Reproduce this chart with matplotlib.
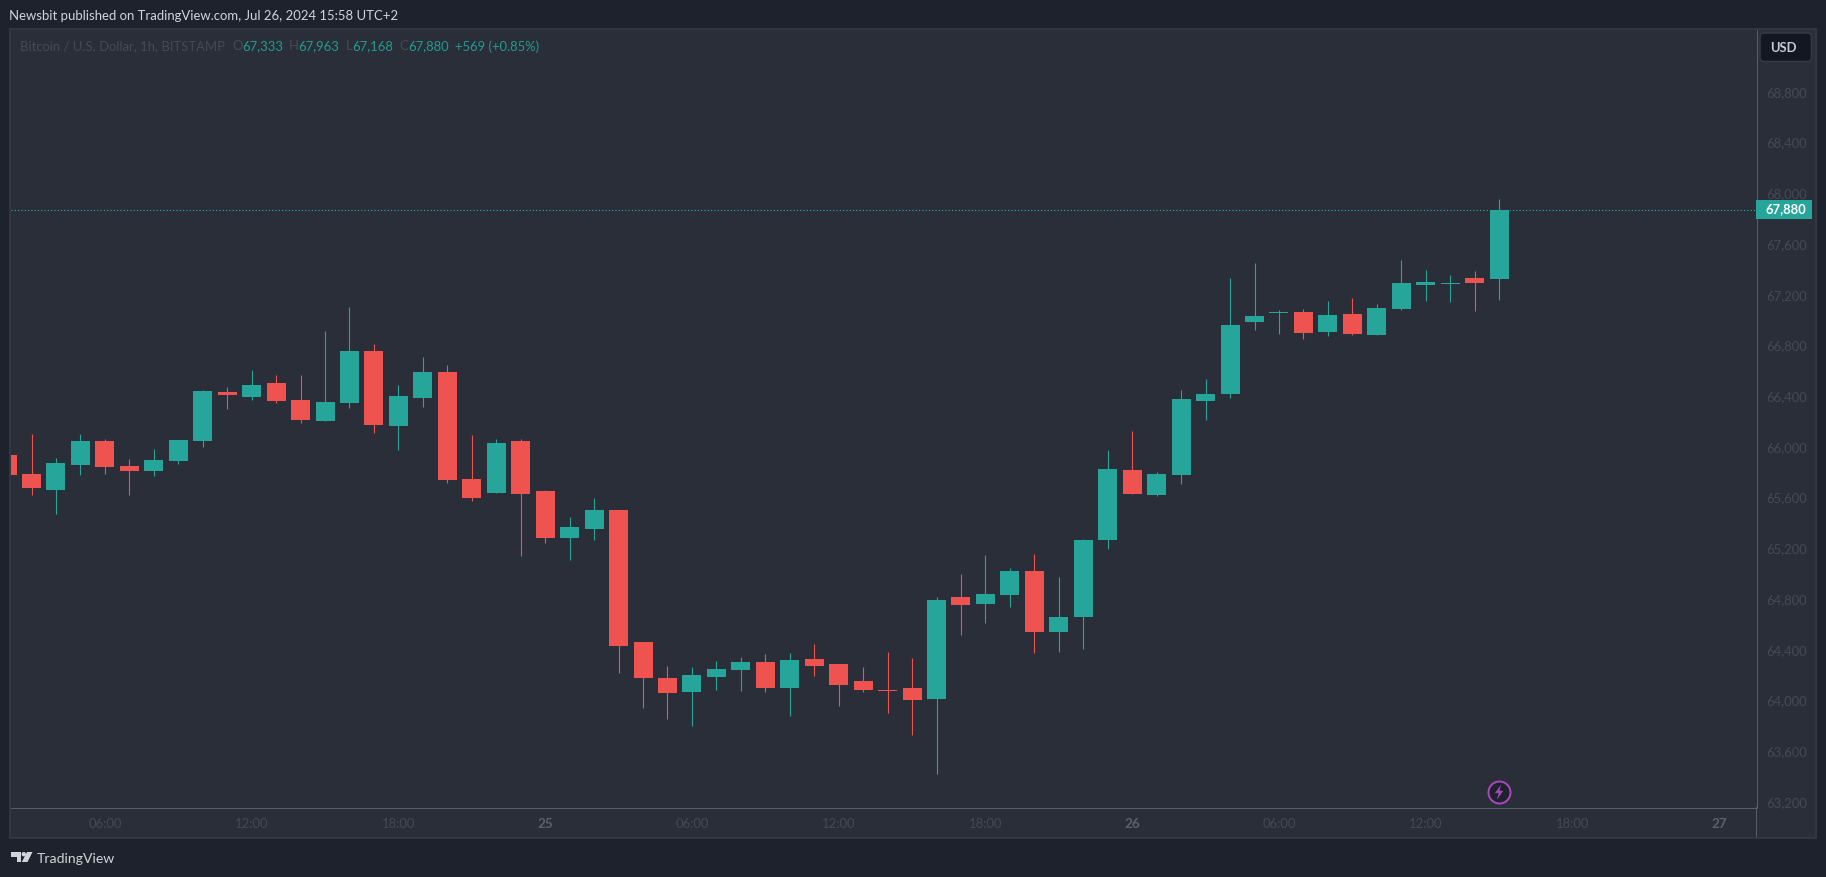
import matplotlib
matplotlib.use("Agg")
import matplotlib.pyplot as plt
import numpy as np
from matplotlib.patches import Rectangle, Circle, Polygon, FancyBboxPatch
from matplotlib.path import Path
from matplotlib.transforms import Affine2D, ScaledTranslation

# ---------- data ----------
opens = [65950,65800,65674,65871,66061,65863,65824,65903,66061,66447,
         66408,66518,66384,66218,66360,66770,66179,66400,66605,65761,
         65650,66061,65666,65296,65366,65516,64475,64191,64081,64199,
         64254,64318,64112,64341,64302,64168,64097,64112,64026,64830,
         64775,64846,65035,64554,64672,65280,65832,65635,65792,66376,
         66431,66999,67070,67078,66920,67062,66896,67102,67291,67299,
         67346,67333]
highs = [65990,66116,65926,66116,66076,65919,65997,66068,66463,66486,
         66621,66581,66581,66928,67117,66826,66502,66723,66660,66108,
         66076,66076,65674,65461,65611,65516,64475,64286,64278,64325,
         64357,64381,64389,64459,64302,64278,64396,64349,64830,65012,
         65161,65059,65169,64988,65288,65990,66139,65816,66463,66549,
         67346,67464,67094,67102,67165,67188,67141,67488,67409,67370,
         67401,67963]
lows = [65760,65635,65485,65792,65800,65635,65785,65879,66013,66313,
        66384,66360,66202,66218,66321,66124,65990,66329,65729,65587,
        65650,65154,65256,65122,65280,64231,63955,63868,63813,64097,
        64089,64081,63892,64207,63970,64081,63915,63742,63434,64530,
        64625,64751,64388,64396,64420,65209,65643,65627,65721,66226,
        66400,66936,66904,66865,66889,66896,66896,67094,67165,67157,
        67086,67168]
closes = [65792,65690,65887,66061,65855,65824,65911,66068,66455,66423,
          66502,66376,66226,66368,66770,66187,66415,66605,65753,65611,
          66045,65642,65296,65382,65516,64444,64191,64073,64215,64262,
          64318,64112,64333,64286,64136,64097,64089,64018,64806,64767,
          64854,65035,64554,64672,65280,65840,65643,65800,66392,66431,
          66975,67046,67078,66912,67054,66904,67109,67307,67314,67307,
          67307,67880]
# Slot positions: 0 = 02:00 on the 24th, one slot per hour
price_ticks = [68800,68400,68000,67600,67200,66800,66400,66000,65600,65200,
               64800,64400,64000,63600,63200]
time_ticks = [4,10,16,22,28,34,40,46,52,58,64,70]
time_labels = ["06:00","12:00","18:00","25","06:00","12:00","18:00","26",
               "06:00","12:00","18:00","27"]
last_price = 67880
legend_parts = [("Bitcoin / U.S. Dollar, 1h, BITSTAMP",20,"#474a55"),
                ("O",232,"#474a55"),("67,333",242,"#1f9c8e"),
                ("H",289,"#474a55"),("67,963",298,"#1f9c8e"),
                ("L",346,"#474a55"),("67,168",352,"#1f9c8e"),
                ("C",399,"#474a55"),("67,880",408,"#1f9c8e"),
                ("+569 (+0.85%)",455,"#1f9c8e")]

# ---------- style ----------
W, H = 1826, 878
FONT = "Lato"
BG = "#1e222d"; PANE = "#2a2e39"; EDGE = "#323641"; AXLINE = "#5a5d68"
UP = "#26a69a"; DOWN = "#ef5350"; TICK = "#464954"
plt.rcParams["font.family"] = [FONT, "DejaVu Sans"]

def pt(px):
    return px * 72 / 100

fig = plt.figure(figsize=(W/100, H/100), dpi=100, facecolor=BG)
px = Affine2D().scale(1, -1).translate(0, H)   # pixel coordinates, origin top-left
def add(p, z=10):
    p.set_transform(px); p.set_zorder(z); fig.add_artist(p); return p

# pane frame
add(Rectangle((9.5, 30), 1806.5, 808.5, facecolor=PANE, edgecolor=EDGE, lw=pt(2)), z=-1)

L, R, T, B = 10.5, 1756.5, 31.0, 809.0
ax = fig.add_axes([L/W, 1-B/H, (R-L)/W, (B-T)/H], facecolor=PANE)
ppx = 0.1268
Y0 = 211.0
ax.set_ylim(last_price-(B-Y0)/ppx, last_price+(Y0-T)/ppx)
slot = 24.46
ax.set_xlim((L-7.04)/slot, (R-7.04)/slot)

o, h, l, c = map(np.array, (opens, highs, lows, closes))
x = np.arange(len(o))
colors = [UP if cc >= oo else DOWN for oo, cc in zip(o, c)]

ax.axhline(last_price, color="#17b8a6", lw=pt(1.1), ls=(0, (1, 2)), zorder=1)
ax.vlines(x, l, h, colors=colors, lw=pt(1.1), zorder=2)
bottom = np.minimum(o, c); height = np.maximum(np.abs(c-o), 8)
ax.bar(x, height, bottom=bottom, width=19/slot, color=colors, linewidth=0, zorder=3)

for s in ("top", "left"):
    ax.spines[s].set_visible(False)
for s in ("right", "bottom"):
    ax.spines[s].set_color(AXLINE); ax.spines[s].set_linewidth(pt(1))

ax.yaxis.tick_right()
ax.set_yticks(price_ticks)
ax.set_yticklabels([f"{v:,}" for v in price_ticks], fontsize=pt(13), color=TICK)
ax.tick_params(axis="y", length=0, pad=pt(9.5))
ax.set_xticks(time_ticks)
ax.set_xticklabels(time_labels, fontsize=pt(13), color=TICK)
ax.tick_params(axis="x", length=0, pad=pt(9))
for lab in ax.get_xticklabels():
    if ":" not in lab.get_text():
        lab.set_fontweight("bold"); lab.set_color("#5d606b"); lab.set_fontsize(pt(13.5))
shift = ScaledTranslation(0, 2.5/100, fig.dpi_scale_trans)
for lab in ax.get_yticklabels():
    lab.set_transform(lab.get_transform() + shift)

# axis vertical line continues into the time-axis strip
add(Rectangle((1756, 808), 1, 30, facecolor=AXLINE, edgecolor="none"))

# last-price tag, with the y position tied to the price scale
tag_y = 210.5
add(Rectangle((1756, tag_y-9.5), 55.5, 19, facecolor=UP, edgecolor="none"))
fig.text(1786/W, 1-(tag_y-1)/H, f"{last_price:,}", color="white", fontsize=pt(13),
         fontweight="bold", ha="center", va="center", zorder=12)

# currency button
add(FancyBboxPatch((1760, 34), 51.5, 28.5, boxstyle="round,pad=0,rounding_size=4",
                   facecolor="#131722", edgecolor="#363a45", lw=pt(1.5)))
fig.text(1770/W, 1-48.5/H, "USD", color="#c8cbd4", fontsize=pt(13), fontweight="bold",
         ha="left", va="center", zorder=12)

# header texts
fig.text(9/W, 1-16.5/H, "Newsbit published on TradingView.com, Jul 26, 2024 15:58 UTC+2",
         color="#d1d4dc", fontsize=pt(13.1), ha="left", va="center")
for txt, xp, col in legend_parts:
    fig.text(xp/W, 1-46.5/H, txt, color=col, fontsize=pt(13), ha="left", va="center")

# logo and brand
fig.text(37/W, 1-859/H, "TradingView", color="#d1d4dc", fontsize=pt(14), ha="left", va="center")
add(Polygon([(11,853),(21,853),(21,863),(16.5,863),(16.5,857.5),(11,857.5)], closed=True,
            facecolor="#d1d4dc", edgecolor="none"))
add(Circle((23.8,855.2), 2.2, facecolor="#d1d4dc", edgecolor="none"))
add(Polygon([(27,853),(32.5,853),(27.5,863),(21.8,863)], closed=True,
            facecolor="#d1d4dc", edgecolor="none"))

# news marker at the last bar
mx = ax.get_xaxis_transform()
ax.scatter([x[-1]], [(B-793.3)/(B-T)], s=pt(22)**2, marker="o", transform=mx,
           facecolor="#1e222d", edgecolor="#ab47bc", linewidth=pt(2), zorder=6, clip_on=False)
bolt = Path([(0.25,1),(-0.55,-0.1),(-0.05,-0.1),(-0.3,-1),(0.55,0.2),(0.05,0.2),(0.25,1)], closed=True)
ax.scatter([x[-1]], [(B-793.3)/(B-T)], s=pt(15)**2, marker=bolt, transform=mx,
           facecolor="#ab47bc", edgecolor="none", zorder=7, clip_on=False)

fig.savefig("out.png", dpi=100, facecolor=BG)
